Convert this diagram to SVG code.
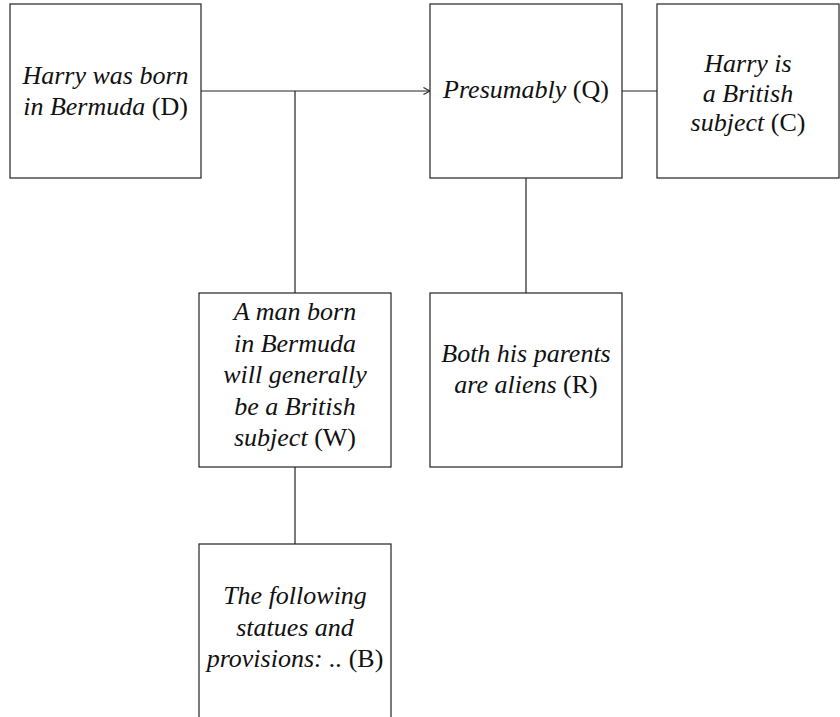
<svg xmlns="http://www.w3.org/2000/svg" width="840" height="717" viewBox="0 0 840 717">
  <style>
    .box { fill: #ffffff; stroke: #222222; stroke-width: 1.2; }
    .edge { fill: none; stroke: #222222; stroke-width: 1.2; }
    .label { font-family: "Liberation Serif", "DejaVu Serif", serif; font-size: 26px; font-style: italic; fill: #111111; text-anchor: middle; }
    .tag { font-style: normal; }
  </style>
  <defs>
    <marker id="arrow" viewBox="0 0 10 10" refX="9.5" refY="5" markerWidth="10" markerHeight="10" markerUnits="userSpaceOnUse" orient="auto">
      <polyline points="3,1.5 9.5,5 3,8.5" fill="none" stroke="#222222" stroke-width="1.1"/>
    </marker>
  </defs>

  <g id="connectors">
    <line class="edge" x1="201" y1="91" x2="430" y2="91" marker-end="url(#arrow)"/>
    <line class="edge" x1="295" y1="91" x2="295" y2="293"/>
    <line class="edge" x1="622" y1="91" x2="657" y2="91"/>
    <line class="edge" x1="526" y1="178" x2="526" y2="293"/>
    <line class="edge" x1="295" y1="467" x2="295" y2="544"/>
  </g>

  <g id="node-D">
    <rect class="box" x="10" y="4" width="191" height="174"/>
    <text class="label" x="105.5" y="84">Harry was born</text>
    <text class="label" x="105.5" y="115">in Bermuda <tspan class="tag">(D)</tspan></text>
  </g>

  <g id="node-Q">
    <rect class="box" x="430" y="4" width="192" height="174"/>
    <text class="label" x="526" y="98">Presumably <tspan class="tag">(Q)</tspan></text>
  </g>

  <g id="node-C">
    <rect class="box" x="657" y="4" width="182" height="174"/>
    <text class="label" x="748" y="72">Harry is</text>
    <text class="label" x="748" y="102">a British</text>
    <text class="label" x="748" y="131">subject <tspan class="tag">(C)</tspan></text>
  </g>

  <g id="node-W">
    <rect class="box" x="199" y="293" width="192" height="174"/>
    <text class="label" x="295" y="320">A man born</text>
    <text class="label" x="295" y="352">in Bermuda</text>
    <text class="label" x="295" y="383">will generally</text>
    <text class="label" x="295" y="415">be a British</text>
    <text class="label" x="295" y="446">subject <tspan class="tag">(W)</tspan></text>
  </g>

  <g id="node-R">
    <rect class="box" x="430" y="293" width="192" height="174"/>
    <text class="label" x="526" y="362">Both his parents</text>
    <text class="label" x="526" y="393">are aliens <tspan class="tag">(R)</tspan></text>
  </g>

  <g id="node-B">
    <rect class="box" x="199" y="544" width="192" height="180"/>
    <text class="label" x="295" y="604">The following</text>
    <text class="label" x="295" y="636">statues and</text>
    <text class="label" x="295" y="667">provisions: .. <tspan class="tag">(B)</tspan></text>
  </g>
</svg>
